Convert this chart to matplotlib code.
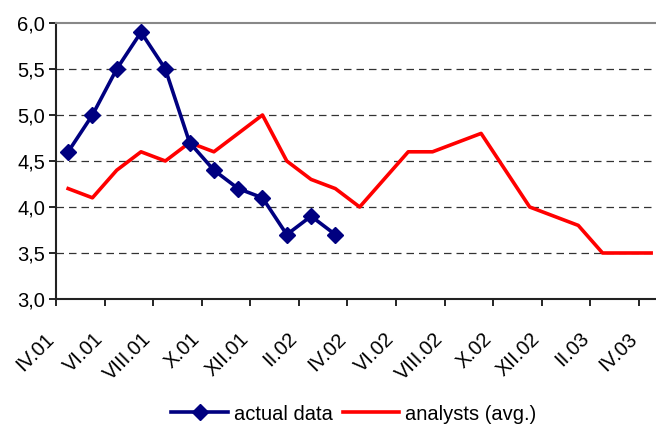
import numpy as np
import matplotlib
matplotlib.use("Agg")
import matplotlib.pyplot as plt
import matplotlib.transforms as mtransforms

plt.rcParams['font.family'] = ['Liberation Sans', 'DejaVu Sans']

# monthly data, IV.01 .. IV.03
months = ['IV.01', 'V.01', 'VI.01', 'VII.01', 'VIII.01', 'IX.01', 'X.01', 'XI.01',
          'XII.01', 'I.02', 'II.02', 'III.02', 'IV.02', 'V.02', 'VI.02', 'VII.02',
          'VIII.02', 'IX.02', 'X.02', 'XI.02', 'XII.02', 'I.03', 'II.03', 'III.03', 'IV.03']
actual = [4.6, 5.0, 5.5, 5.9, 5.5, 4.7, 4.4, 4.2, 4.1, 3.7, 3.9, 3.7]
analysts = [4.2, 4.1, 4.4, 4.6, 4.5, 4.7, 4.6, 4.8, 5.0, 4.5, 4.3, 4.2, 4.0,
            4.3, 4.6, 4.6, 4.7, 4.8, 4.4, 4.0, 3.9, 3.8, 3.5, 3.5, 3.5]

fig = plt.figure(figsize=(6.56, 4.26), dpi=100)
ax = fig.add_axes([56/656, 1 - 299/426, 1 - 56/656, (299 - 23)/426])

x_all = np.arange(len(months))
ax.plot(x_all[:len(actual)], actual, color='#000080', lw=2.6, marker='D', ms=8.5,
        label='actual data', zorder=3)
ax.plot(x_all, analysts, color='#FF0000', lw=2.6, label='analysts (avg.)', zorder=2)

ax.set_ylim(3.0, 6.0)
ax.set_xlim(-0.5, 24.2)
ax.set_yticks(np.arange(3.0, 6.01, 0.5))
ax.set_yticklabels([f'{v:.1f}'.replace('.', ',') for v in np.arange(3.0, 6.01, 0.5)])
for v in np.arange(3.5, 5.6, 0.5):
    ax.axhline(v, color='#333333', lw=0.9, ls=(0, (6, 4)), zorder=1)

# tick marks between categories, labels every second month
ax.set_xticks(np.arange(-0.5, 24, 2))
ax.set_xticklabels([])
ax.set_xticks(x_all[::2], minor=True)
ax.set_xticklabels(months[::2], minor=True, rotation=45, ha='right', va='center',
                   rotation_mode='anchor')
ax.tick_params(axis='x', which='minor', length=0, pad=26.5, labelsize=14.5)
ax.tick_params(axis='x', which='major', length=5, width=1.2, direction='out')
ax.tick_params(axis='y', length=5, width=1.2, direction='out', labelsize=14.5, pad=3)
shift = mtransforms.ScaledTranslation(-17/100, 0, fig.dpi_scale_trans)
for lab in ax.get_xticklabels(minor=True):
    lab.set_transform(lab.get_transform() + shift)

for s in ['left', 'bottom']:
    ax.spines[s].set_color('#222222')
    ax.spines[s].set_linewidth(1.5)
ax.spines['right'].set_visible(False)
ax.spines['top'].set_color('#888888')
ax.spines['top'].set_linewidth(1.5)

fig.legend(loc='center', bbox_to_anchor=(354/656, 1 - 414/426), ncol=2, frameon=False,
           fontsize=14.5, handlelength=2.8, handletextpad=0.3, columnspacing=0.5,
           borderpad=0)

fig.savefig('out.png', dpi=100)
